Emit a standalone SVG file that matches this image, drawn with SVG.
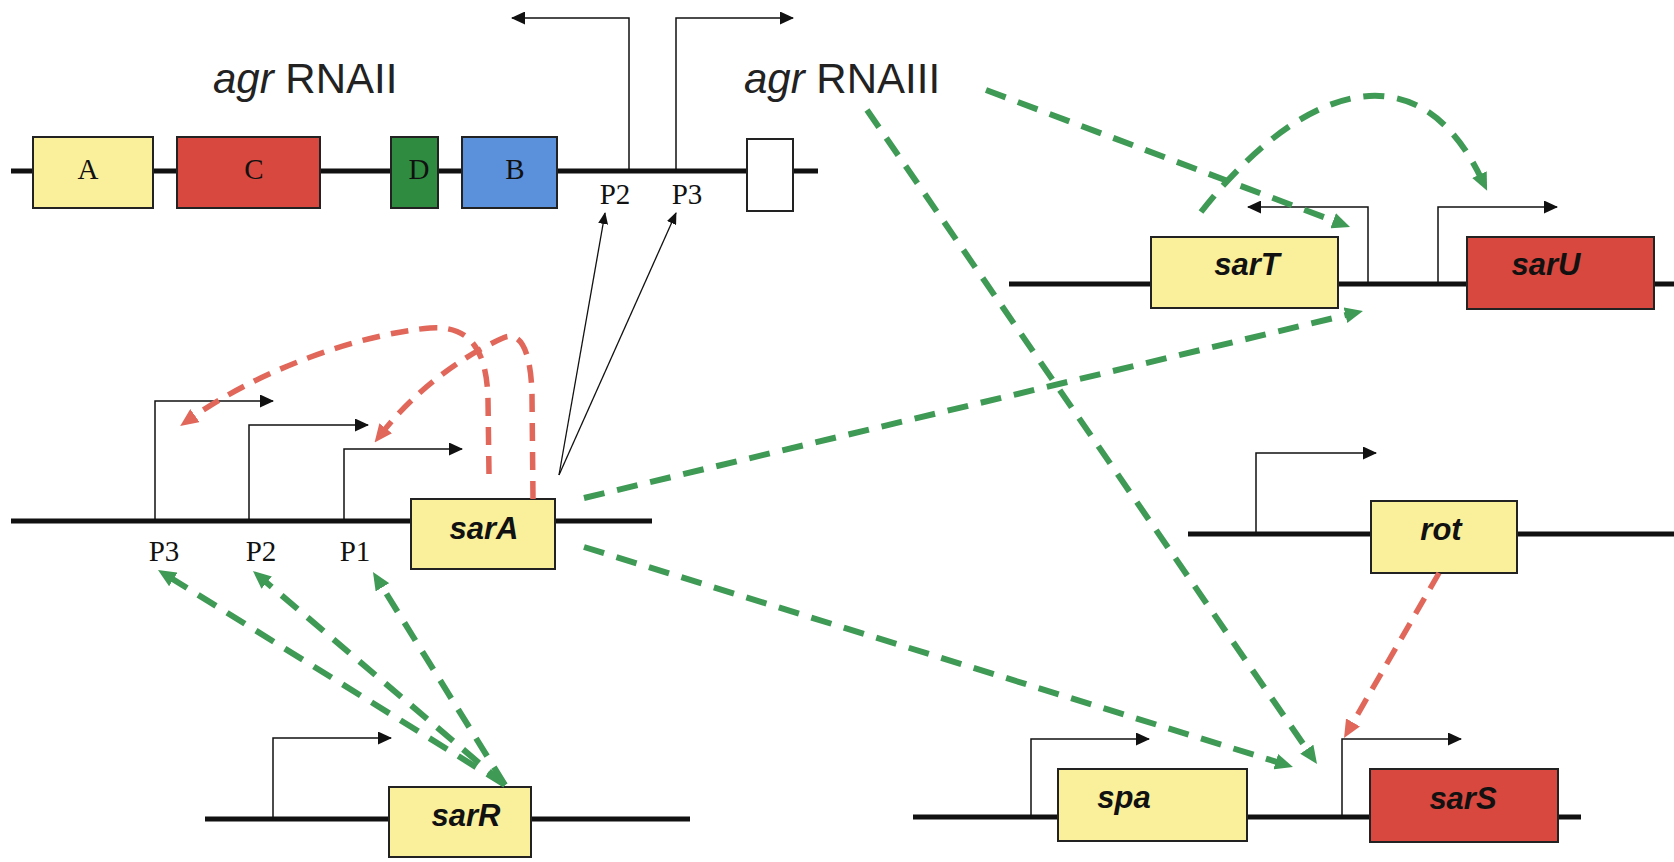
<svg xmlns="http://www.w3.org/2000/svg" width="1674" height="862" viewBox="0 0 1674 862">
<style>
.dna{stroke:#111;stroke-width:5;fill:none}
.box{stroke:#222;stroke-width:2}
.yel{fill:#FAF09C}
.red{fill:#D8483E}
.prom{stroke:#111;stroke-width:1.5;fill:none}
.thin{stroke:#111;stroke-width:1.3;fill:none}
.g{stroke:#3F9A55;stroke-width:6;fill:none;stroke-dasharray:21 13}
.r{stroke:#E0675A;stroke-width:5.5;fill:none;stroke-dasharray:18 11}
.gene{font-family:"Liberation Sans",Arial,sans-serif;font-weight:bold;font-style:italic;font-size:31px;fill:#111;text-anchor:middle}
.ser{font-family:"Liberation Serif","Times New Roman",serif;font-size:29px;fill:#111;text-anchor:middle}
.big{font-family:"Liberation Sans",Arial,sans-serif;font-size:42px;fill:#222}
</style>
<defs>
<marker id="ga" markerUnits="userSpaceOnUse" markerWidth="18" markerHeight="16" refX="6" refY="8" orient="auto"><path d="M0,0 L18,8 L0,16 z" fill="#3F9A55"/></marker>
<marker id="ra" markerUnits="userSpaceOnUse" markerWidth="18" markerHeight="16" refX="6" refY="8" orient="auto"><path d="M0,0 L18,8 L0,16 z" fill="#E0675A"/></marker>
<marker id="ba" markerUnits="userSpaceOnUse" markerWidth="14" markerHeight="13" refX="13" refY="6.5" orient="auto"><path d="M0,0 L14,6.5 L0,13 z" fill="#111"/></marker>
<marker id="bs" markerUnits="userSpaceOnUse" markerWidth="12" markerHeight="10" refX="11" refY="5" orient="auto"><path d="M0,0 L12,5 L0,10 z" fill="#111"/></marker>
</defs>
<rect width="1674" height="862" fill="#fff"/>

<g id="agr-locus">
<line class="dna" x1="11" y1="171" x2="818" y2="171"/>
<text class="big" x="213" y="93"><tspan font-style="italic">agr</tspan> RNAII</text>
<text class="big" x="744" y="93"><tspan font-style="italic">agr</tspan> RNAIII</text>
<path class="prom" d="M629,171 V18 H512" marker-end="url(#ba)"/>
<path class="prom" d="M676,171 V18 H793" marker-end="url(#ba)"/>
<text class="ser" x="615" y="204">P2</text>
<text class="ser" x="687" y="204">P3</text>
</g>
<g id="agrA"><rect class="box yel" x="33" y="137" width="120" height="71"/><text class="ser" x="88" y="179" font-size="31">A</text></g>
<g id="agrC"><rect class="box red" x="177" y="137" width="143" height="71"/><text class="ser" x="254" y="179" font-size="31">C</text></g>
<g id="agrD"><rect class="box" fill="#2E8B40" x="391" y="137" width="47" height="71"/><text class="ser" x="419" y="179" font-size="31">D</text></g>
<g id="agrB"><rect class="box" fill="#5B90DA" x="462" y="137" width="95" height="71"/><text class="ser" x="515" y="179" font-size="31">B</text></g>
<g id="agr-rna3"><rect class="box" fill="#fff" x="747" y="139" width="46" height="72"/></g>

<g id="sarA-locus">
<line class="dna" x1="11" y1="521" x2="652" y2="521"/>
<path class="prom" d="M155,521 V401 H273" marker-end="url(#ba)"/>
<path class="prom" d="M249,521 V425 H368" marker-end="url(#ba)"/>
<path class="prom" d="M344,521 V449 H462" marker-end="url(#ba)"/>
<text class="ser" x="164" y="561">P3</text>
<text class="ser" x="261" y="561">P2</text>
<text class="ser" x="355" y="561">P1</text>
</g>
<g id="sarA"><rect class="box yel" x="411" y="499" width="144" height="70"/><text class="gene" x="484" y="539">sarA</text></g>

<g id="sarR-locus">
<line class="dna" x1="205" y1="819" x2="690" y2="819"/>
<path class="prom" d="M273,819 V738 H391" marker-end="url(#ba)"/>
</g>
<g id="sarR"><rect class="box yel" x="389" y="787" width="142" height="70"/><text class="gene" x="466" y="826">sarR</text></g>

<g id="sarTU-locus">
<line class="dna" x1="1009" y1="284" x2="1674" y2="284"/>
<path class="prom" d="M1368,284 V207 H1248" marker-end="url(#ba)"/>
<path class="prom" d="M1438,284 V207 H1557" marker-end="url(#ba)"/>
</g>
<g id="sarT"><rect class="box yel" x="1151" y="237" width="187" height="71"/><text class="gene" x="1247" y="275">sarT</text></g>
<g id="sarU"><rect class="box red" x="1467" y="237" width="187" height="72"/><text class="gene" x="1546" y="275">sarU</text></g>

<g id="rot-locus">
<line class="dna" x1="1188" y1="534" x2="1674" y2="534"/>
<path class="prom" d="M1256,534 V453 H1376" marker-end="url(#ba)"/>
</g>
<g id="rot"><rect class="box yel" x="1371" y="501" width="146" height="72"/><text class="gene" x="1441" y="540">rot</text></g>

<g id="spa-sarS-locus">
<line class="dna" x1="913" y1="817" x2="1581" y2="817"/>
<path class="prom" d="M1031,817 V739 H1149" marker-end="url(#ba)"/>
<path class="prom" d="M1342,817 V739 H1461" marker-end="url(#ba)"/>
</g>
<g id="spa"><rect class="box yel" x="1058" y="769" width="189" height="72"/><text class="gene" x="1124" y="808">spa</text></g>
<g id="sarS"><rect class="box red" x="1370" y="769" width="188" height="73"/><text class="gene" x="1463" y="809">sarS</text></g>

<g id="connectors">
<line class="thin" x1="559" y1="475" x2="605" y2="213" marker-end="url(#bs)"/>
<line class="thin" x1="559" y1="475" x2="676" y2="213" marker-end="url(#bs)"/>
<path class="r" d="M489,474 L488,400 C487,350 470,325 430,328 C370,333 268,364 190,419" marker-end="url(#ra)"/>
<path class="r" d="M533,499 L532,395 C531,350 520,330 503,338 C480,348 425,378 382,433" marker-end="url(#ra)"/>
<path class="r" d="M1439,573 L1350,727.6" stroke-width="5" marker-end="url(#ra)"/>
<path class="g" d="M584,498 L1351.3,313.8" marker-end="url(#ga)"/>
<path class="g" d="M584,547 L1281.5,763.4" marker-end="url(#ga)"/>
<path class="g" d="M867,110 L1310.2,754.1" marker-end="url(#ga)"/>
<path class="g" d="M986,90 L1338.8,222.8" marker-end="url(#ga)"/>
<path class="g" d="M1201,212 C1300,86 1418,44 1482,180" marker-end="url(#ga)"/>
<path class="g" d="M505,785 L168.2,576.3" marker-end="url(#ga)"/>
<path class="g" d="M505,785 L262.1,578.8" marker-end="url(#ga)"/>
<path class="g" d="M505,785 L379.3,582.2" marker-end="url(#ga)"/>
</g>
</svg>
